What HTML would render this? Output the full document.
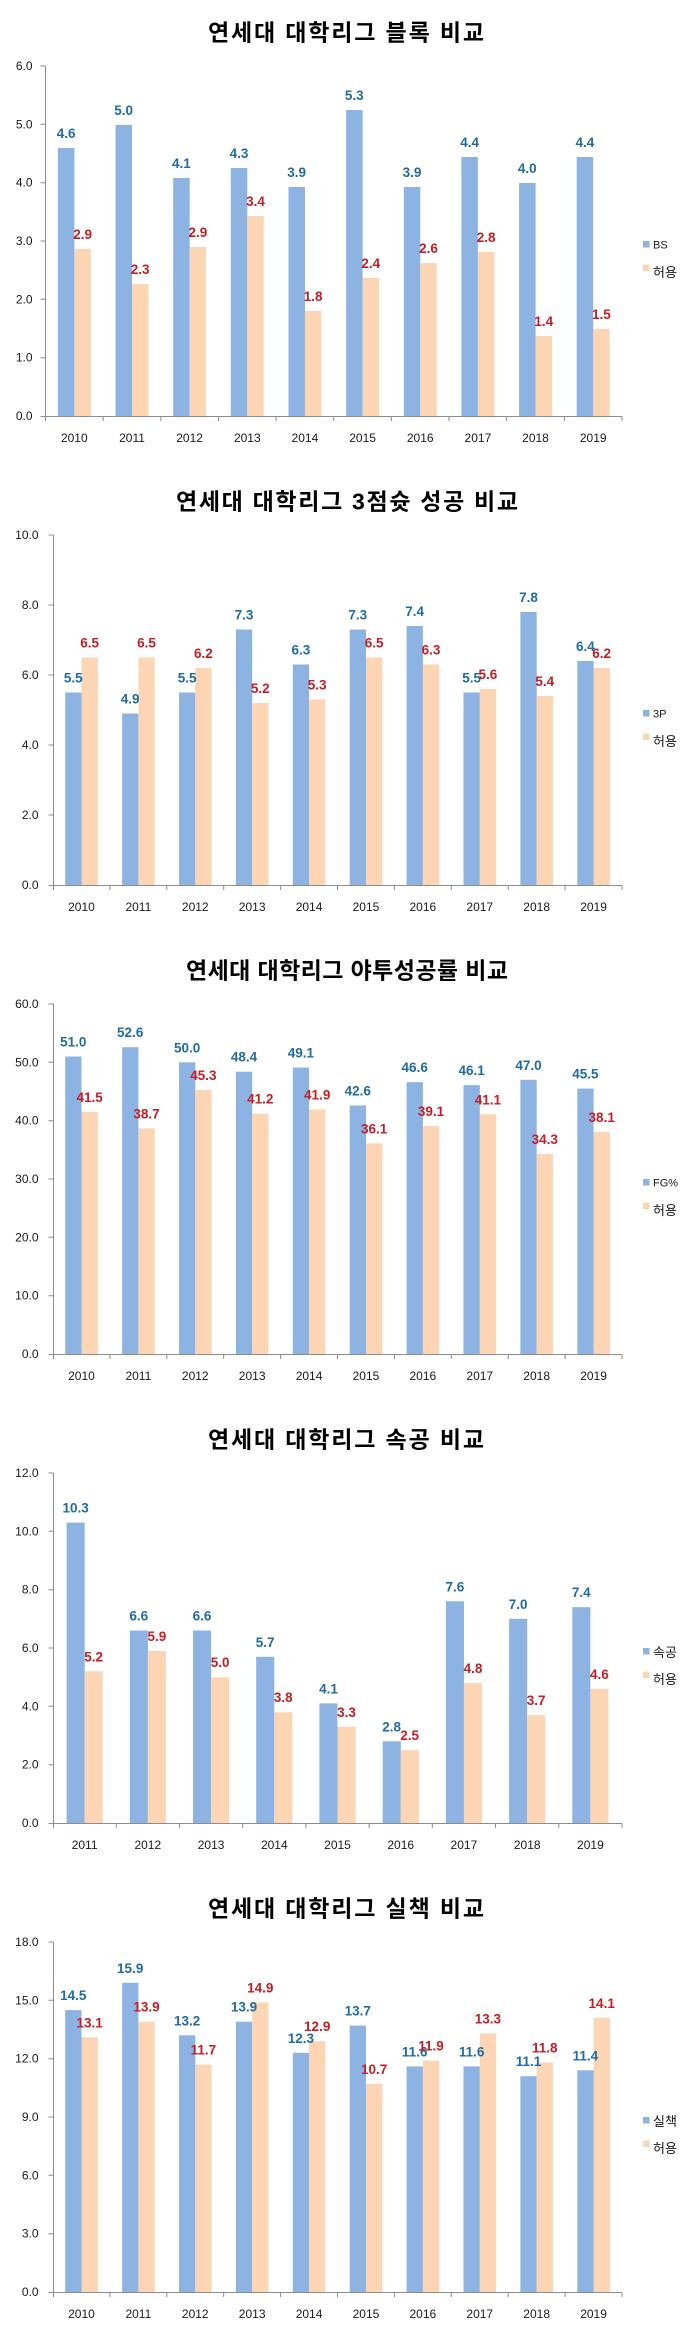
<!DOCTYPE html>
<html><head><meta charset="utf-8">
<style>
html,body{margin:0;padding:0;background:#fff;}
svg{display:block;}
.t{font-family:"Liberation Sans","Noto Sans CJK KR",sans-serif;font-weight:bold;font-size:23px;fill:#000;}
.ax{font-family:"Liberation Sans","Noto Sans CJK KR",sans-serif;font-size:12px;fill:#1a1a1a;}
.b{fill:#8DB3E2;}
.o{fill:#FCD5B5;}
.lb{font-family:"Liberation Sans",sans-serif;font-weight:bold;font-size:13.5px;fill:#1F6BA4;text-anchor:middle;}
.lo{font-family:"Liberation Sans",sans-serif;font-weight:bold;font-size:13.5px;fill:#C41E24;text-anchor:middle;}
.ln{stroke:#8c8c8c;stroke-width:1;fill:none;}
.yl{text-anchor:end;}
.xl{text-anchor:middle;}
.lg1{font-family:"Liberation Sans",sans-serif;font-size:11px;fill:#1a1a1a;}
.lg2{font-family:"Liberation Sans","Noto Sans CJK KR",sans-serif;font-size:13px;fill:#1a1a1a;}
</style></head>
<body>
<svg width="700" height="2335" viewBox="0 0 700 2335" xmlns="http://www.w3.org/2000/svg">

<!-- ================= CHART 1 ================= -->
<g transform="translate(0,0)">
<text class="t" x="346" y="40.5" text-anchor="middle" textLength="276" lengthAdjust="spacing">연세대 대학리그 블록 비교</text>
<path class="ln" d="M45.5 66V416.5H622M40.5 66H45.5M40.5 124.3H45.5M40.5 182.7H45.5M40.5 241H45.5M40.5 299.3H45.5M40.5 357.7H45.5M40.5 416.5H45.5M45.5 416.5V421M103.15 416.5V421M160.8 416.5V421M218.45 416.5V421M276.1 416.5V421M333.75 416.5V421M391.4 416.5V421M449.05 416.5V421M506.7 416.5V421M564.35 416.5V421M622 416.5V421"/>
<g class="ax yl">
<text x="32.5" y="70">6.0</text><text x="32.5" y="128.3">5.0</text><text x="32.5" y="186.7">4.0</text><text x="32.5" y="245">3.0</text><text x="32.5" y="303.3">2.0</text><text x="32.5" y="361.7">1.0</text><text x="32.5" y="420">0.0</text>
</g>
<g class="ax xl">
<text x="74.3" y="442">2010</text><text x="132" y="442">2011</text><text x="189.6" y="442">2012</text><text x="247.3" y="442">2013</text><text x="304.9" y="442">2014</text><text x="362.6" y="442">2015</text><text x="420.2" y="442">2016</text><text x="477.9" y="442">2017</text><text x="535.5" y="442">2018</text><text x="593.2" y="442">2019</text>
</g>
<rect class="b" x="57.9" y="148" width="16.5" height="268"/>
<rect class="b" x="115.5" y="125" width="16.5" height="291"/>
<rect class="b" x="173.2" y="178" width="16.5" height="238"/>
<rect class="b" x="230.8" y="168" width="16.5" height="248"/>
<rect class="b" x="288.5" y="187" width="16.5" height="229"/>
<rect class="b" x="346.1" y="110" width="16.5" height="306"/>
<rect class="b" x="403.8" y="187" width="16.5" height="229"/>
<rect class="b" x="461.4" y="157" width="16.5" height="259"/>
<rect class="b" x="519.1" y="183" width="16.5" height="233"/>
<rect class="b" x="576.7" y="157" width="16.5" height="259"/>
<rect class="o" x="74.3" y="249" width="16.5" height="167"/>
<rect class="o" x="132" y="284" width="16.5" height="132"/>
<rect class="o" x="189.6" y="247" width="16.5" height="169"/>
<rect class="o" x="247.3" y="216" width="16.5" height="200"/>
<rect class="o" x="304.9" y="311" width="16.5" height="105"/>
<rect class="o" x="362.6" y="278" width="16.5" height="138"/>
<rect class="o" x="420.2" y="263" width="16.5" height="153"/>
<rect class="o" x="477.9" y="252" width="16.5" height="164"/>
<rect class="o" x="535.5" y="336" width="16.5" height="80"/>
<rect class="o" x="593.2" y="329" width="16.5" height="87"/>
<text class="lb" x="66.1" y="138">4.6</text><text class="lb" x="123.7" y="115">5.0</text><text class="lb" x="181.4" y="168">4.1</text><text class="lb" x="239" y="158">4.3</text><text class="lb" x="296.7" y="177">3.9</text><text class="lb" x="354.3" y="100">5.3</text><text class="lb" x="412" y="177">3.9</text><text class="lb" x="469.6" y="147">4.4</text><text class="lb" x="527.3" y="173">4.0</text><text class="lb" x="584.9" y="147">4.4</text>
<text class="lo" x="82.6" y="239">2.9</text><text class="lo" x="140.2" y="274">2.3</text><text class="lo" x="197.9" y="237">2.9</text><text class="lo" x="255.5" y="206">3.4</text><text class="lo" x="313.2" y="301">1.8</text><text class="lo" x="370.8" y="268">2.4</text><text class="lo" x="428.5" y="253">2.6</text><text class="lo" x="486.1" y="242">2.8</text><text class="lo" x="543.8" y="326">1.4</text><text class="lo" x="601.4" y="319">1.5</text>
<rect class="b" x="643" y="241" width="6.5" height="6.5"/><text class="lg1" x="653" y="248.5">BS</text>
<rect class="o" x="643" y="264.5" width="6.5" height="6.5"/><text class="lg2" x="653" y="277">허용</text>
</g>

<!-- ================= CHART 2 ================= -->
<g transform="translate(0,469)">
<text class="t" x="347" y="40.5" text-anchor="middle" textLength="342" lengthAdjust="spacing">연세대 대학리그 3점슛 성공 비교</text>
<path class="ln" d="M53.5 66V416.5H622M48.5 66H53.5M48.5 136H53.5M48.5 206H53.5M48.5 276H53.5M48.5 346H53.5M48.5 416.5H53.5M53.5 416.5V421M109.9 416.5V421M166.8 416.5V421M223.7 416.5V421M280.6 416.5V421M337.5 416.5V421M394.4 416.5V421M451.3 416.5V421M508.2 416.5V421M565.1 416.5V421M622 416.5V421"/>
<g class="ax yl">
<text x="38.5" y="70">10.0</text><text x="38.5" y="140">8.0</text><text x="38.5" y="210">6.0</text><text x="38.5" y="280">4.0</text><text x="38.5" y="350">2.0</text><text x="38.5" y="420">0.0</text>
</g>
<g class="ax xl">
<text x="81.45" y="442">2010</text><text x="138.35" y="442">2011</text><text x="195.25" y="442">2012</text><text x="252.15" y="442">2013</text><text x="309.05" y="442">2014</text><text x="365.95" y="442">2015</text><text x="422.85" y="442">2016</text><text x="479.75" y="442">2017</text><text x="536.65" y="442">2018</text><text x="593.55" y="442">2019</text>
</g>
<rect class="b" x="65.2" y="223.5" width="16.3" height="192.5"/>
<rect class="b" x="122.1" y="244.5" width="16.3" height="171.5"/>
<rect class="b" x="179" y="223.5" width="16.3" height="192.5"/>
<rect class="b" x="235.9" y="160.5" width="16.3" height="255.5"/>
<rect class="b" x="292.8" y="195.5" width="16.3" height="220.5"/>
<rect class="b" x="349.7" y="160.5" width="16.3" height="255.5"/>
<rect class="b" x="406.6" y="157" width="16.3" height="259"/>
<rect class="b" x="463.5" y="223.5" width="16.3" height="192.5"/>
<rect class="b" x="520.4" y="143" width="16.3" height="273"/>
<rect class="b" x="577.3" y="192" width="16.3" height="224"/>
<rect class="o" x="81.5" y="188.5" width="16.3" height="227.5"/>
<rect class="o" x="138.4" y="188.5" width="16.3" height="227.5"/>
<rect class="o" x="195.3" y="199" width="16.3" height="217"/>
<rect class="o" x="252.2" y="234" width="16.3" height="182"/>
<rect class="o" x="309.1" y="230.5" width="16.3" height="185.5"/>
<rect class="o" x="366" y="188.5" width="16.3" height="227.5"/>
<rect class="o" x="422.9" y="195.5" width="16.3" height="220.5"/>
<rect class="o" x="479.8" y="220" width="16.3" height="196"/>
<rect class="o" x="536.7" y="227" width="16.3" height="189"/>
<rect class="o" x="593.6" y="199" width="16.3" height="217"/>
<text class="lb" x="73.3" y="213.5">5.5</text><text class="lb" x="130.2" y="234.5">4.9</text><text class="lb" x="187.1" y="213.5">5.5</text><text class="lb" x="244" y="150.5">7.3</text><text class="lb" x="300.9" y="185.5">6.3</text><text class="lb" x="357.8" y="150.5">7.3</text><text class="lb" x="414.7" y="147">7.4</text><text class="lb" x="471.6" y="213.5">5.5</text><text class="lb" x="528.5" y="133">7.8</text><text class="lb" x="585.4" y="182">6.4</text>
<text class="lo" x="89.6" y="178.5">6.5</text><text class="lo" x="146.5" y="178.5">6.5</text><text class="lo" x="203.4" y="189">6.2</text><text class="lo" x="260.3" y="224">5.2</text><text class="lo" x="317.2" y="220.5">5.3</text><text class="lo" x="374.1" y="178.5">6.5</text><text class="lo" x="431" y="185.5">6.3</text><text class="lo" x="487.9" y="210">5.6</text><text class="lo" x="544.8" y="217">5.4</text><text class="lo" x="601.7" y="189">6.2</text>
<rect class="b" x="643" y="241" width="6.5" height="6.5"/><text class="lg1" x="653" y="248.5">3P</text>
<rect class="o" x="643" y="264.5" width="6.5" height="6.5"/><text class="lg2" x="653" y="277">허용</text>
</g>

<!-- ================= CHART 3 ================= -->
<g transform="translate(0,938)">
<text class="t" x="347" y="40.5" text-anchor="middle" textLength="322" lengthAdjust="spacing">연세대 대학리그 야투성공률 비교</text>
<path class="ln" d="M53.5 66V416.5H622M48.5 66H53.5M48.5 124.3H53.5M48.5 182.7H53.5M48.5 241H53.5M48.5 299.3H53.5M48.5 357.7H53.5M48.5 416.5H53.5M53.5 416.5V421M109.9 416.5V421M166.8 416.5V421M223.7 416.5V421M280.6 416.5V421M337.5 416.5V421M394.4 416.5V421M451.3 416.5V421M508.2 416.5V421M565.1 416.5V421M622 416.5V421"/>
<g class="ax yl">
<text x="38.5" y="70">60.0</text><text x="38.5" y="128.3">50.0</text><text x="38.5" y="186.7">40.0</text><text x="38.5" y="245">30.0</text><text x="38.5" y="303.3">20.0</text><text x="38.5" y="361.7">10.0</text><text x="38.5" y="420">0.0</text>
</g>
<g class="ax xl">
<text x="81.45" y="442">2010</text><text x="138.35" y="442">2011</text><text x="195.25" y="442">2012</text><text x="252.15" y="442">2013</text><text x="309.05" y="442">2014</text><text x="365.95" y="442">2015</text><text x="422.85" y="442">2016</text><text x="479.75" y="442">2017</text><text x="536.65" y="442">2018</text><text x="593.55" y="442">2019</text>
</g>
<rect class="b" x="65.2" y="118.5" width="16.3" height="297.5"/>
<rect class="b" x="122.1" y="109.2" width="16.3" height="306.8"/>
<rect class="b" x="179" y="124.3" width="16.3" height="291.7"/>
<rect class="b" x="235.9" y="133.7" width="16.3" height="282.3"/>
<rect class="b" x="292.8" y="129.6" width="16.3" height="286.4"/>
<rect class="b" x="349.7" y="167.5" width="16.3" height="248.5"/>
<rect class="b" x="406.6" y="144.2" width="16.3" height="271.8"/>
<rect class="b" x="463.5" y="147.1" width="16.3" height="268.9"/>
<rect class="b" x="520.4" y="141.8" width="16.3" height="274.2"/>
<rect class="b" x="577.3" y="150.6" width="16.3" height="265.4"/>
<rect class="o" x="81.5" y="173.9" width="16.3" height="242.1"/>
<rect class="o" x="138.4" y="190.3" width="16.3" height="225.7"/>
<rect class="o" x="195.3" y="151.8" width="16.3" height="264.2"/>
<rect class="o" x="252.2" y="175.7" width="16.3" height="240.3"/>
<rect class="o" x="309.1" y="171.6" width="16.3" height="244.4"/>
<rect class="o" x="366" y="205.4" width="16.3" height="210.6"/>
<rect class="o" x="422.9" y="187.9" width="16.3" height="228.1"/>
<rect class="o" x="479.8" y="176.3" width="16.3" height="239.7"/>
<rect class="o" x="536.7" y="215.9" width="16.3" height="200.1"/>
<rect class="o" x="593.6" y="193.8" width="16.3" height="222.2"/>
<text class="lb" x="73.3" y="108.5">51.0</text><text class="lb" x="130.2" y="99.2">52.6</text><text class="lb" x="187.1" y="114.3">50.0</text><text class="lb" x="244" y="123.7">48.4</text><text class="lb" x="300.9" y="119.6">49.1</text><text class="lb" x="357.8" y="157.5">42.6</text><text class="lb" x="414.7" y="134.2">46.6</text><text class="lb" x="471.6" y="137.1">46.1</text><text class="lb" x="528.5" y="131.8">47.0</text><text class="lb" x="585.4" y="140.6">45.5</text>
<text class="lo" x="89.6" y="163.9">41.5</text><text class="lo" x="146.5" y="180.3">38.7</text><text class="lo" x="203.4" y="141.8">45.3</text><text class="lo" x="260.3" y="165.7">41.2</text><text class="lo" x="317.2" y="161.6">41.9</text><text class="lo" x="374.1" y="195.4">36.1</text><text class="lo" x="431" y="177.9">39.1</text><text class="lo" x="487.9" y="166.3">41.1</text><text class="lo" x="544.8" y="205.9">34.3</text><text class="lo" x="601.7" y="183.8">38.1</text>
<rect class="b" x="643" y="241" width="6.5" height="6.5"/><text class="lg1" x="653" y="248.5">FG%</text>
<rect class="o" x="643" y="264.5" width="6.5" height="6.5"/><text class="lg2" x="653" y="277">허용</text>
</g>

<!-- ================= CHART 4 ================= -->
<g transform="translate(0,1407)">
<text class="t" x="346" y="40.5" text-anchor="middle" textLength="276" lengthAdjust="spacing">연세대 대학리그 속공 비교</text>
<path class="ln" d="M53.5 66V416.5H622M48.5 66H53.5M48.5 124.3H53.5M48.5 182.7H53.5M48.5 241H53.5M48.5 299.3H53.5M48.5 357.7H53.5M48.5 416.5H53.5M53.5 416.5V421M116.2 416.5V421M179.4 416.5V421M242.7 416.5V421M305.9 416.5V421M369.1 416.5V421M432.3 416.5V421M495.5 416.5V421M558.8 416.5V421M622 416.5V421"/>
<g class="ax yl">
<text x="38.5" y="70">12.0</text><text x="38.5" y="128.3">10.0</text><text x="38.5" y="186.7">8.0</text><text x="38.5" y="245">6.0</text><text x="38.5" y="303.3">4.0</text><text x="38.5" y="361.7">2.0</text><text x="38.5" y="420">0.0</text>
</g>
<g class="ax xl">
<text x="84.6" y="442">2011</text><text x="147.8" y="442">2012</text><text x="211.1" y="442">2013</text><text x="274.3" y="442">2014</text><text x="337.5" y="442">2015</text><text x="400.7" y="442">2016</text><text x="463.9" y="442">2017</text><text x="527.2" y="442">2018</text><text x="590.4" y="442">2019</text>
</g>
<rect class="b" x="66.6" y="115.6" width="18.1" height="300.4"/>
<rect class="b" x="129.8" y="223.5" width="18.1" height="192.5"/>
<rect class="b" x="193" y="223.5" width="18.1" height="192.5"/>
<rect class="b" x="256.2" y="249.8" width="18.1" height="166.2"/>
<rect class="b" x="319.4" y="296.4" width="18.1" height="119.6"/>
<rect class="b" x="382.7" y="334.3" width="18.1" height="81.7"/>
<rect class="b" x="445.9" y="194.3" width="18.1" height="221.7"/>
<rect class="b" x="509.1" y="211.8" width="18.1" height="204.2"/>
<rect class="b" x="572.3" y="200.2" width="18.1" height="215.8"/>
<rect class="o" x="84.6" y="264.3" width="18.1" height="151.7"/>
<rect class="o" x="147.8" y="243.9" width="18.1" height="172.1"/>
<rect class="o" x="211.1" y="270.2" width="18.1" height="145.8"/>
<rect class="o" x="274.3" y="305.2" width="18.1" height="110.8"/>
<rect class="o" x="337.5" y="319.8" width="18.1" height="96.2"/>
<rect class="o" x="400.7" y="343.1" width="18.1" height="72.9"/>
<rect class="o" x="463.9" y="276" width="18.1" height="140"/>
<rect class="o" x="527.2" y="308.1" width="18.1" height="107.9"/>
<rect class="o" x="590.4" y="281.8" width="18.1" height="134.2"/>
<text class="lb" x="75.6" y="105.6">10.3</text><text class="lb" x="138.8" y="213.5">6.6</text><text class="lb" x="202" y="213.5">6.6</text><text class="lb" x="265.2" y="239.8">5.7</text><text class="lb" x="328.5" y="286.4">4.1</text><text class="lb" x="391.7" y="324.3">2.8</text><text class="lb" x="454.9" y="184.3">7.6</text><text class="lb" x="518.1" y="201.8">7.0</text><text class="lb" x="581.3" y="190.2">7.4</text>
<text class="lo" x="93.6" y="254.3">5.2</text><text class="lo" x="156.9" y="233.9">5.9</text><text class="lo" x="220.1" y="260.2">5.0</text><text class="lo" x="283.3" y="295.2">3.8</text><text class="lo" x="346.5" y="309.8">3.3</text><text class="lo" x="409.7" y="333.1">2.5</text><text class="lo" x="473" y="266">4.8</text><text class="lo" x="536.2" y="298.1">3.7</text><text class="lo" x="599.4" y="271.8">4.6</text>
<rect class="b" x="643" y="241" width="6.5" height="6.5"/><text class="lg2" x="653" y="250">속공</text>
<rect class="o" x="643" y="264.5" width="6.5" height="6.5"/><text class="lg2" x="653" y="277">허용</text>
</g>

<!-- ================= CHART 5 ================= -->
<g transform="translate(0,1876)">
<text class="t" x="346" y="40.5" text-anchor="middle" textLength="276" lengthAdjust="spacing">연세대 대학리그 실책 비교</text>
<path class="ln" d="M53.5 66V416.5H622M48.5 66H53.5M48.5 124.3H53.5M48.5 182.7H53.5M48.5 241H53.5M48.5 299.3H53.5M48.5 357.7H53.5M48.5 416.5H53.5M53.5 416.5V421M109.9 416.5V421M166.8 416.5V421M223.7 416.5V421M280.6 416.5V421M337.5 416.5V421M394.4 416.5V421M451.3 416.5V421M508.2 416.5V421M565.1 416.5V421M622 416.5V421"/>
<g class="ax yl">
<text x="38.5" y="70">18.0</text><text x="38.5" y="128.3">15.0</text><text x="38.5" y="186.7">12.0</text><text x="38.5" y="245">9.0</text><text x="38.5" y="303.3">6.0</text><text x="38.5" y="361.7">3.0</text><text x="38.5" y="420">0.0</text>
</g>
<g class="ax xl">
<text x="81.45" y="442">2010</text><text x="138.35" y="442">2011</text><text x="195.25" y="442">2012</text><text x="252.15" y="442">2013</text><text x="309.05" y="442">2014</text><text x="365.95" y="442">2015</text><text x="422.85" y="442">2016</text><text x="479.75" y="442">2017</text><text x="536.65" y="442">2018</text><text x="593.55" y="442">2019</text>
</g>
<rect class="b" x="65.2" y="134.1" width="16.3" height="281.9"/>
<rect class="b" x="122.1" y="106.8" width="16.3" height="309.2"/>
<rect class="b" x="179" y="159.3" width="16.3" height="256.7"/>
<rect class="b" x="235.9" y="145.7" width="16.3" height="270.3"/>
<rect class="b" x="292.8" y="176.8" width="16.3" height="239.2"/>
<rect class="b" x="349.7" y="149.6" width="16.3" height="266.4"/>
<rect class="b" x="406.6" y="190.4" width="16.3" height="225.6"/>
<rect class="b" x="463.5" y="190.4" width="16.3" height="225.6"/>
<rect class="b" x="520.4" y="200.2" width="16.3" height="215.8"/>
<rect class="b" x="577.3" y="194.3" width="16.3" height="221.7"/>
<rect class="o" x="81.5" y="161.3" width="16.3" height="254.7"/>
<rect class="o" x="138.4" y="145.7" width="16.3" height="270.3"/>
<rect class="o" x="195.3" y="188.5" width="16.3" height="227.5"/>
<rect class="o" x="252.2" y="126.3" width="16.3" height="289.7"/>
<rect class="o" x="309.1" y="165.2" width="16.3" height="250.8"/>
<rect class="o" x="366" y="207.9" width="16.3" height="208.1"/>
<rect class="o" x="422.9" y="184.6" width="16.3" height="231.4"/>
<rect class="o" x="479.8" y="157.4" width="16.3" height="258.6"/>
<rect class="o" x="536.7" y="186.6" width="16.3" height="229.4"/>
<rect class="o" x="593.6" y="141.8" width="16.3" height="274.2"/>
<text class="lb" x="73.3" y="124.1">14.5</text><text class="lb" x="130.2" y="96.8">15.9</text><text class="lb" x="187.1" y="149.3">13.2</text><text class="lb" x="244" y="135.7">13.9</text><text class="lb" x="300.9" y="166.8">12.3</text><text class="lb" x="357.8" y="139.6">13.7</text><text class="lb" x="414.7" y="180.4">11.6</text><text class="lb" x="471.6" y="180.4">11.6</text><text class="lb" x="528.5" y="190.2">11.1</text><text class="lb" x="585.4" y="184.3">11.4</text>
<text class="lo" x="89.6" y="151.3">13.1</text><text class="lo" x="146.5" y="135.7">13.9</text><text class="lo" x="203.4" y="178.5">11.7</text><text class="lo" x="260.3" y="116.3">14.9</text><text class="lo" x="317.2" y="155.2">12.9</text><text class="lo" x="374.1" y="197.9">10.7</text><text class="lo" x="431" y="174.6">11.9</text><text class="lo" x="487.9" y="147.4">13.3</text><text class="lo" x="544.8" y="176.6">11.8</text><text class="lo" x="601.7" y="131.8">14.1</text>
<rect class="b" x="643" y="241" width="6.5" height="6.5"/><text class="lg2" x="653" y="250">실책</text>
<rect class="o" x="643" y="264.5" width="6.5" height="6.5"/><text class="lg2" x="653" y="277">허용</text>
</g>

</svg>
</body></html>
